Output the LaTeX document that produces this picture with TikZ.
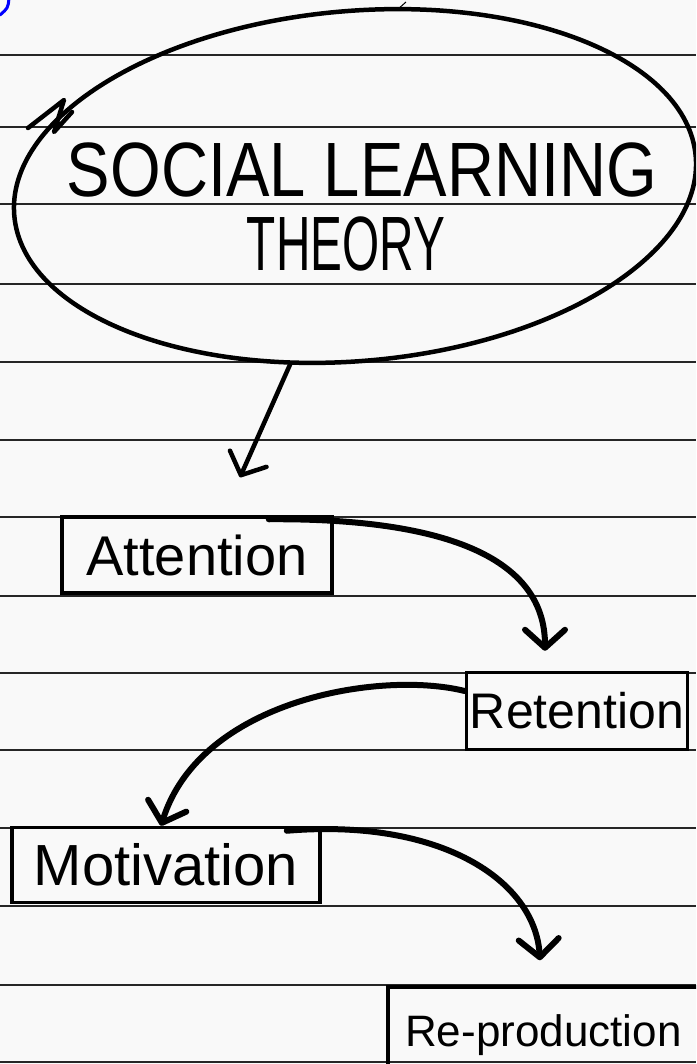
\documentclass[tikz,border=0pt]{standalone}
\usepackage{fontspec}
\setmainfont{Liberation Sans}
\usetikzlibrary{shapes.geometric,arrows.meta}
\begin{document}
\begin{tikzpicture}[x=1pt,y=-1pt,
  rule/.style={line width=2pt, draw=black!85},
  ink/.style={line width=4.5pt, line cap=round, line join=round},
  heavy/.style={line width=6pt, line cap=round, line join=round},
  boxstyle/.style={draw, line width=3.5pt, rectangle, inner sep=0pt},
  barb/.style={-{Straight Barb[length=18pt,width=40pt,round]}},
]
\useasboundingbox (0,0) rectangle (696,1064);
\clip (0,0) rectangle (696,1064);
\fill[gray!5] (0,0) rectangle (696,1064);
\foreach \y in {55,127,204,284,362,440,517,596,673,750,828,906,985,1062}
  \draw[rule] (0,\y) -- (696,\y);

% title
\node[draw, ellipse, line width=4.5pt, minimum width=684pt, minimum height=350pt,
      rotate=5, inner sep=0pt] (title) at (355,186) {};
\node (t1) at (362,170) {\fontsize{77}{80}\selectfont\scalebox{0.846}[1]{SOCIAL LEARNING}};
\node (t2) at (346,244) {\fontsize{77}{80}\selectfont\scalebox{0.62}[1]{THEORY}};
\draw[ink] (28,128) -- (64,100) -- (54,132) -- (72,112);
\draw[line width=1pt] (397,10) -- (406,2);
\draw[blue, line width=3pt, line cap=round] (9,-2) .. controls (8,8) .. (0,15);

% boxes
\node[boxstyle, minimum width=270pt, minimum height=76pt,
      font=\fontsize{56}{60}\selectfont] (att) at (197,555) {Attention};
\node[boxstyle, minimum width=221pt, minimum height=77pt,
      font=\fontsize{50}{54}\selectfont] (ret) at (577,711) {Retention};
\node[boxstyle, minimum width=308pt, minimum height=75pt,
      font=\fontsize{58}{62}\selectfont] (mot) at (166,865) {Motivation};
\node[boxstyle, minimum width=412pt, minimum height=80pt] (rep) at (594,1027) {};
\node[anchor=base west, inner sep=0pt, font=\fontsize{44}{48}\selectfont] (reptext) at (405,1046) {Re-production};

% connectors
\draw[ink, barb] (title.245) -- ([xshift=43pt,yshift=38pt]att.north);
\draw[heavy, barb] ([xshift=-65pt,yshift=-4pt]att.north east)
  .. controls (450,518) and (545,560) .. ([xshift=-32pt,yshift=20pt]ret.north);
\draw[heavy, barb] ([yshift=20pt]ret.west)
  .. controls (380,670) and (200,700) .. ([xshift=-5pt]mot.north);
\draw[heavy, barb] ([xshift=-35pt,yshift=-5pt]mot.north east)
  .. controls (440,818) and (535,880) .. ([xshift=-54pt,yshift=25pt]rep.north);
\end{tikzpicture}
\end{document}
